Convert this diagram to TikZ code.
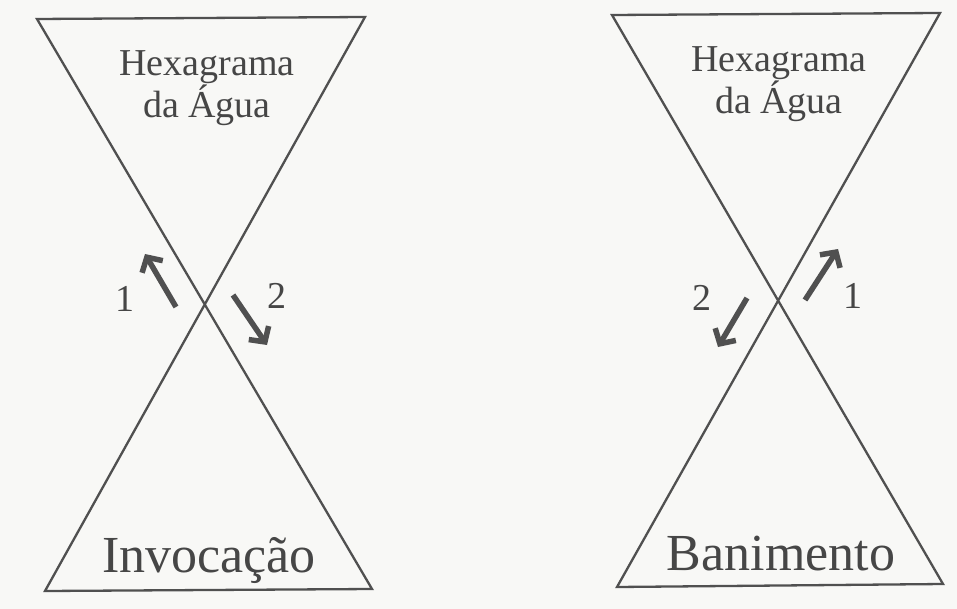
\documentclass[tikz,border=0pt]{standalone}
\usepackage{fontspec}
\setmainfont{Liberation Serif}
\usetikzlibrary{arrows.meta}
\definecolor{ink}{HTML}{505050}
\definecolor{txt}{HTML}{464646}
\definecolor{paper}{HTML}{F8F8F6}
\begin{document}
\begin{tikzpicture}[x=1pt,y=-1pt,
  edge/.style={draw=ink, line width=2.3pt, line join=miter},
  arr/.style={draw=ink, line width=5.5pt, -{Straight Barb[length=11pt,width=24pt]}},
  hexlabel/.style={text=txt, font=\fontsize{38}{41}\selectfont, anchor=base, inner sep=0pt},
  bigl/.style={text=txt, font=\fontsize{52}{56}\selectfont, anchor=base, inner sep=0pt},
  numl/.style={text=txt, font=\fontsize{38}{40}\selectfont, inner sep=0pt}]
\fill[paper] (0,0) rectangle (957,609);
\useasboundingbox (0,0) rectangle (957,609);

% left hourglass (Invocacao)
\coordinate (LTL) at (37,19);
\coordinate (LTR) at (365,17);
\coordinate (LBL) at (45,591);
\coordinate (LBR) at (372,589);
\draw[edge] (LTL) -- (LTR) -- (LBL) -- (LBR) -- cycle;
\node[hexlabel] (lhex1) at (207,76) {Hexagrama};
\node[hexlabel] (lhex2) at (207,118) {da Água};
\node[bigl] (linv) at (209,572) {Invocação};
\coordinate (la1s) at (176,307);
\coordinate (la1e) at (145,254);
\coordinate (la2s) at (233,295);
\coordinate (la2e) at (267,345);
\draw[arr] (la1s) -- (la1e);
\draw[arr] (la2s) -- (la2e);
\node[numl] (ln1) at (125,299) {1};
\node[numl] (ln2) at (277,296) {2};

% right hourglass (Banimento)
\coordinate (RTL) at (612,15);
\coordinate (RTR) at (940,13);
\coordinate (RBL) at (617,587);
\coordinate (RBR) at (943,584);
\draw[edge] (RTL) -- (RTR) -- (RBL) -- (RBR) -- cycle;
\node[hexlabel] (rhex1) at (779,72) {Hexagrama};
\node[hexlabel] (rhex2) at (779,114) {da Água};
\node[bigl] (rban) at (781,570) {Banimento};
\coordinate (ra1s) at (805,300);
\coordinate (ra1e) at (838,249);
\coordinate (ra2s) at (747,298);
\coordinate (ra2e) at (718,347);
\draw[arr] (ra1s) -- (ra1e);
\draw[arr] (ra2s) -- (ra2e);
\node[numl] (rn1) at (853,296) {1};
\node[numl] (rn2) at (702,298) {2};
\end{tikzpicture}
\end{document}
